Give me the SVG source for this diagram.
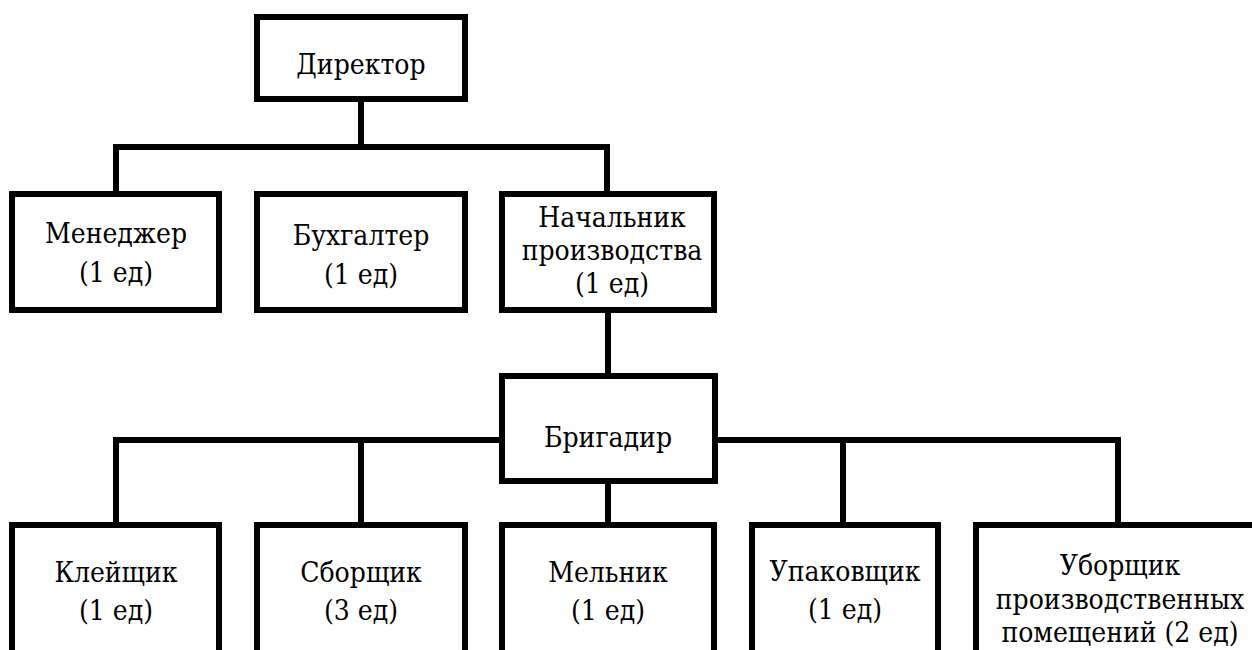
<svg xmlns="http://www.w3.org/2000/svg" width="1252" height="650" viewBox="0 0 1252 650">
<style>
.box{fill:#fff;stroke:#000;stroke-width:6}
.ln{fill:none;stroke:#000;stroke-width:6}
text{font-family:'DejaVu Serif Condensed','DejaVu Serif','Liberation Serif',serif;font-stretch:condensed;font-size:28px;fill:#000;text-anchor:middle}
</style>
<rect width="1252" height="650" fill="#fff"/>
<g id="connectors">
<path class="ln" d="M361 99V147M116 194V147H607V194"/>
<path class="ln" d="M608 310V376"/>
<path class="ln" d="M116 525V440H502M715 440H1118V525M361 440V525M843 440V525"/>
<path class="ln" d="M608 481V525"/>
</g>
<g id="director"><rect class="box" x="257" y="17" width="208" height="82"/><text x="361" y="74">Директор</text></g>
<g id="manager"><rect class="box" x="12" y="194" width="207" height="116"/><text x="116" y="243">Менеджер</text><text x="116" y="282">(1 ед)</text></g>
<g id="accountant"><rect class="box" x="257" y="194" width="208" height="116"/><text x="361" y="245">Бухгалтер</text><text x="361" y="284">(1 ед)</text></g>
<g id="production-head"><rect class="box" x="502" y="194" width="212" height="116"/><text x="612" y="227">Начальник</text><text x="612" y="260">производства</text><text x="612" y="293">(1 ед)</text></g>
<g id="foreman"><rect class="box" x="502" y="376" width="213" height="105"/><text x="608" y="447">Бригадир</text></g>
<g id="gluer"><rect class="box" x="12" y="525" width="207" height="160"/><text x="116" y="582">Клейщик</text><text x="116" y="620">(1 ед)</text></g>
<g id="assembler"><rect class="box" x="257" y="525" width="208" height="160"/><text x="361" y="582">Сборщик</text><text x="361" y="620">(3 ед)</text></g>
<g id="miller"><rect class="box" x="502" y="525" width="212" height="160"/><text x="608" y="582">Мельник</text><text x="608" y="620">(1 ед)</text></g>
<g id="packer"><rect class="box" x="752" y="525" width="186" height="160"/><text x="845" y="581">Упаковщик</text><text x="845" y="619">(1 ед)</text></g>
<g id="cleaner"><rect class="box" x="976" y="525" width="300" height="160"/><text x="1120" y="575">Уборщик</text><text x="1120" y="609">производственных</text><text x="1120" y="642">помещений (2 ед)</text></g>
</svg>
